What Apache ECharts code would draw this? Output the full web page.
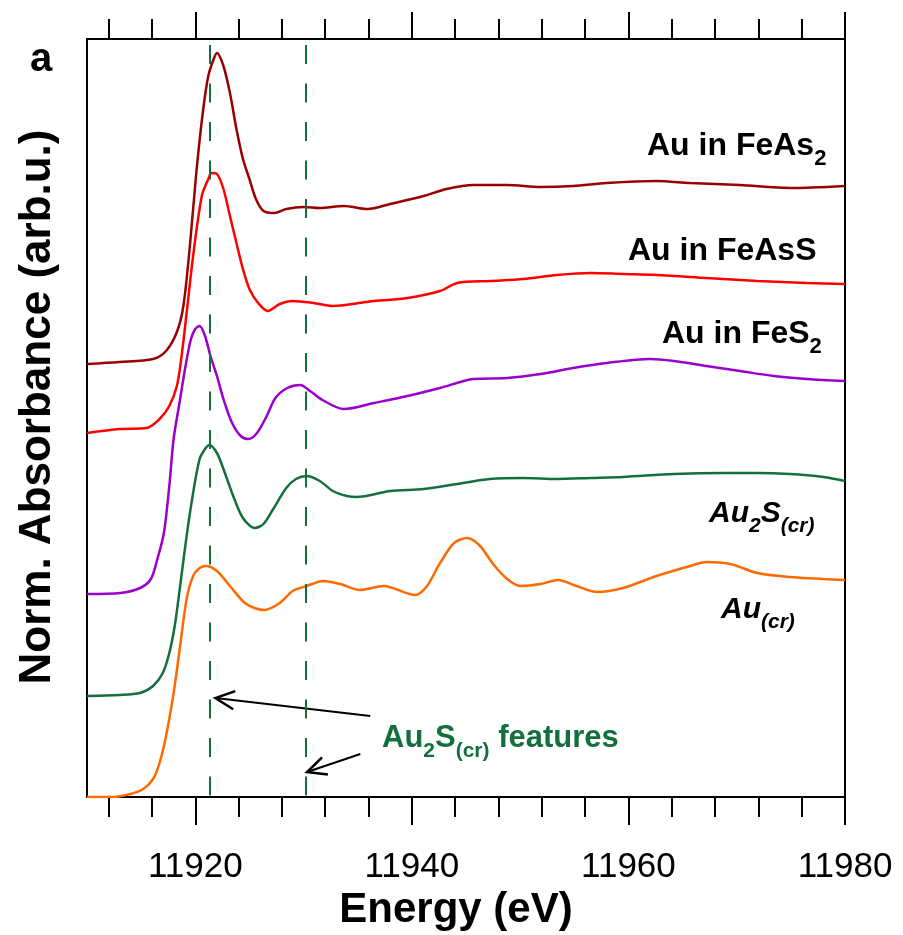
<!DOCTYPE html>
<html>
<head>
<meta charset="utf-8">
<script src="https://cdn.jsdelivr.net/npm/echarts@6.0.0/dist/echarts.min.js"></script>
<style>
  html, body { margin: 0; padding: 0; background: #fff; }
  #chart { width: 903px; height: 935px; }
</style>
</head>
<body>
<div id="chart"></div>
<script>
// ---------------- data ----------------
const majorTicks = [11920, 11940, 11960, 11980];
const minorTicks = [11912, 11916, 11924, 11928, 11932, 11936, 11944, 11948, 11952, 11956, 11964, 11968, 11972, 11976];

// Au in FeAs2 (dark red)
const feAs2E = [11910, 11913, 11916.1, 11917.3, 11918.3, 11918.9, 11919.5, 11920.1, 11920.7, 11921.2, 11921.7, 11922.0, 11922.6, 11923.2, 11923.8, 11924.4, 11925.0, 11925.6, 11926.3, 11927.3, 11928.4, 11930.0, 11931.5, 11933.7, 11935.9, 11938.0, 11941.1, 11943.2, 11945.7, 11948.8, 11951.9, 11954.9, 11958.0, 11962.6, 11965.7, 11970.3, 11974.9, 11980];
const feAs2A = [4.33, 4.35, 4.38, 4.46, 4.65, 4.91, 5.51, 6.25, 6.85, 7.21, 7.38, 7.44, 7.31, 7.04, 6.68, 6.38, 6.18, 5.98, 5.86, 5.84, 5.88, 5.90, 5.89, 5.91, 5.88, 5.93, 6.01, 6.08, 6.12, 6.12, 6.10, 6.11, 6.14, 6.16, 6.14, 6.12, 6.09, 6.11];

// Au in FeAsS (red)
const feAsSE = [11910, 11913.0, 11915.5, 11916.7, 11917.6, 11918.3, 11918.7, 11919.2, 11919.8, 11920.6, 11921.2, 11921.5, 11922.0, 11922.6, 11923.2, 11923.8, 11924.4, 11925.0, 11925.8, 11926.7, 11927.8, 11929.0, 11930.9, 11932.7, 11936.5, 11939.6, 11942.6, 11944.2, 11947.2, 11950.3, 11953.4, 11956.5, 11959.5, 11962.6, 11967.2, 11971.9, 11976.5, 11980];
const feAsSA = [3.64, 3.68, 3.69, 3.78, 3.91, 4.11, 4.38, 4.84, 5.41, 6.01, 6.18, 6.24, 6.23, 6.08, 5.81, 5.54, 5.28, 5.08, 4.94, 4.86, 4.93, 4.96, 4.94, 4.91, 4.96, 4.99, 5.06, 5.14, 5.16, 5.18, 5.22, 5.24, 5.23, 5.22, 5.19, 5.16, 5.14, 5.13];

// Au in FeS2 (purple)
const feS2E = [11910, 11913.1, 11914.9, 11915.9, 11916.5, 11917.1, 11917.6, 11918.0, 11918.6, 11919.1, 11919.6, 11920.0, 11920.4, 11920.9, 11921.4, 11922.0, 11922.6, 11923.4, 11924.2, 11924.9, 11925.7, 11926.6, 11927.4, 11928.5, 11929.7, 11930.6, 11931.9, 11933.7, 11936.5, 11939.6, 11942.6, 11945.7, 11948.8, 11951.9, 11954.9, 11958.0, 11962.0, 11964.2, 11967.2, 11970.3, 11973.4, 11976.5, 11980];
const feS2A = [2.03, 2.04, 2.09, 2.18, 2.38, 2.64, 3.11, 3.58, 3.98, 4.31, 4.58, 4.68, 4.71, 4.61, 4.41, 4.21, 3.98, 3.74, 3.61, 3.58, 3.64, 3.81, 3.99, 4.09, 4.12, 4.06, 3.96, 3.88, 3.94, 4.01, 4.09, 4.18, 4.19, 4.23, 4.29, 4.34, 4.38, 4.36, 4.31, 4.26, 4.21, 4.18, 4.16];

// Au2S(cr) (green)
const au2sE = [11910, 11913.0, 11914.9, 11916.1, 11917.0, 11917.6, 11918.1, 11918.6, 11919.2, 11919.8, 11920.4, 11920.9, 11921.3, 11922.0, 11922.6, 11923.5, 11924.4, 11925.5, 11926.3, 11927.2, 11928.4, 11929.3, 11930.3, 11931.5, 11932.7, 11934.0, 11934.9, 11938.0, 11941.1, 11944.2, 11947.2, 11950.3, 11953.4, 11956.5, 11959.5, 11964.2, 11968.8, 11971.9, 11974.9, 11978.0, 11980];
const au2sA = [1.01, 1.02, 1.04, 1.11, 1.24, 1.44, 1.71, 2.11, 2.61, 3.04, 3.38, 3.48, 3.52, 3.44, 3.28, 3.01, 2.79, 2.69, 2.73, 2.88, 3.09, 3.18, 3.21, 3.16, 3.06, 3.01, 3.00, 3.06, 3.08, 3.13, 3.18, 3.19, 3.18, 3.19, 3.20, 3.23, 3.24, 3.24, 3.23, 3.20, 3.16];

// Au(cr) (orange)
const auCrE = [11910, 11912.4, 11914.0, 11915.2, 11916.1, 11916.7, 11917.3, 11918.0, 11918.6, 11919.2, 11919.8, 11920.4, 11921.0, 11922.0, 11923.2, 11924.7, 11926.4, 11927.8, 11929.0, 11930.3, 11931.8, 11933.4, 11935.2, 11937.4, 11940.3, 11941.4, 11942.6, 11943.9, 11945.1, 11946.3, 11947.5, 11948.8, 11950.0, 11951.9, 11953.5, 11955.2, 11957.1, 11959.5, 11962.6, 11965.7, 11967.2, 11969.4, 11971.9, 11974.9, 11978.0, 11980];
const auCrA = [0.00, 0.00, 0.03, 0.08, 0.18, 0.34, 0.61, 1.04, 1.51, 1.98, 2.21, 2.29, 2.31, 2.26, 2.11, 1.93, 1.87, 1.94, 2.06, 2.11, 2.16, 2.13, 2.07, 2.11, 2.02, 2.11, 2.34, 2.54, 2.59, 2.51, 2.33, 2.18, 2.11, 2.13, 2.17, 2.11, 2.05, 2.09, 2.21, 2.31, 2.35, 2.33, 2.24, 2.20, 2.18, 2.17];

// Au2S(cr) feature energies (dashed lines)
const featureEnergies = [11921.3, 11930.2];
// arrows: [tailE, tailA, tipE, tipA]
const arrowData = [[11936.16, 0.81, 11921.86, 0.99], [11935.24, 0.43, 11930.32, 0.25]];

// ---------------- chart ----------------
const FONT = '"Liberation Sans", Arial, Helvetica, sans-serif';
const GREEN = '#13703c';
const zip = (xs, ys) => xs.map((x, i) => [x, ys[i]]);

const seriesDefs = [
  { name: 'Au in FeAs2', e: feAs2E, a: feAs2A, color: '#990000' },
  { name: 'Au in FeAsS', e: feAsSE, a: feAsSA, color: '#ff0000' },
  { name: 'Au in FeS2', e: feS2E, a: feS2A, color: '#9900cc' },
  { name: 'Au2S(cr)', e: au2sE, a: au2sA, color: GREEN },
  { name: 'Au(cr)', e: auCrE, a: auCrA, color: '#ff6a00' }
];

const series = seriesDefs.map(d => ({
  name: d.name, type: 'line', xAxisIndex: 0, yAxisIndex: 0,
  data: zip(d.e, d.a), showSymbol: false, symbol: 'none', smooth: 0.3,
  lineStyle: { color: d.color, width: 2.5 }, emphasis: { disabled: true }, silent: true
}));

series.push({
  name: 'features', type: 'line', data: [], silent: true,
  markLine: {
    silent: true, symbol: ['none', 'none'], label: { show: false },
    lineStyle: { color: GREEN, width: 2, type: [19, 19.5] },
    emphasis: { disabled: true },
    data: featureEnergies.map(e => [{ coord: [e, 7.52] }, { coord: [e, 0] }])
  }
});

series.push({
  type: 'custom', silent: true, xAxisIndex: 0, yAxisIndex: 0,
  data: arrowData, encode: { x: [0, 2], y: [1, 3] },
  renderItem: function (params, api) {
    const p0 = api.coord([api.value(0), api.value(1)]);
    const p1 = api.coord([api.value(2), api.value(3)]);
    const ang = Math.atan2(p1[1] - p0[1], p1[0] - p0[0]);
    const L = 21, a = 0.45;
    const b1 = [p1[0] - L * Math.cos(ang - a), p1[1] - L * Math.sin(ang - a)];
    const b2 = [p1[0] - L * Math.cos(ang + a), p1[1] - L * Math.sin(ang + a)];
    return {
      type: 'group', children: [
        { type: 'line', shape: { x1: p0[0], y1: p0[1], x2: p1[0], y2: p1[1] }, style: { stroke: '#000', lineWidth: 2 } },
        { type: 'polyline', shape: { points: [b1, p1, b2] }, style: { stroke: '#000', lineWidth: 2.5, fill: null } }
      ]
    };
  }
});

const axisCommon = {
  type: 'value', min: 11910, max: 11980, gridIndex: 0,
  splitLine: { show: false }
};
const lineStyleBlack = { color: '#000', width: 2 };

const xAxes = [
  Object.assign({}, axisCommon, {
    position: 'bottom',
    axisLine: { show: true, onZero: false, lineStyle: lineStyleBlack },
    axisTick: { show: true, inside: false, length: 28, customValues: majorTicks, lineStyle: lineStyleBlack },
    axisLabel: { show: true, customValues: majorTicks, fontSize: 35, color: '#000', fontFamily: FONT, margin: 53,
                 formatter: v => String(v) },
    name: 'Energy (eV)', nameLocation: 'middle', nameGap: 91,
    nameTextStyle: { fontSize: 42, fontWeight: 'bold', color: '#000', fontFamily: FONT, padding: [0, 20, 0, 0] }
  }),
  Object.assign({}, axisCommon, {
    position: 'top',
    axisLine: { show: true, onZero: false, lineStyle: lineStyleBlack },
    axisTick: { show: true, inside: false, length: 27, customValues: majorTicks, lineStyle: lineStyleBlack },
    axisLabel: { show: false }
  }),
  Object.assign({}, axisCommon, {
    position: 'bottom',
    axisLine: { show: false, onZero: false },
    axisTick: { show: true, inside: false, length: 20, customValues: minorTicks, lineStyle: lineStyleBlack },
    axisLabel: { show: false }
  }),
  Object.assign({}, axisCommon, {
    position: 'top',
    axisLine: { show: false, onZero: false },
    axisTick: { show: true, inside: false, length: 20, customValues: minorTicks, lineStyle: lineStyleBlack },
    axisLabel: { show: false }
  })
];

const yAxes = [
  {
    type: 'value', min: 0, max: 7.58, position: 'left',
    axisLine: { show: true, onZero: false, lineStyle: lineStyleBlack },
    axisTick: { show: false }, axisLabel: { show: false }, splitLine: { show: false },
    name: 'Norm. Absorbance (arb.u.)', nameLocation: 'middle', nameGap: 27,
    nameTextStyle: { fontSize: 44, fontWeight: 'bold', color: '#000', fontFamily: FONT, padding: [0, 0, 0, 22] }
  },
  {
    type: 'value', min: 0, max: 7.58, position: 'right',
    axisLine: { show: true, onZero: false, lineStyle: lineStyleBlack },
    axisTick: { show: false }, axisLabel: { show: false }, splitLine: { show: false }
  }
];

// text labels: parts of [text, isSubscript]
const labelDefs = [
  { parts: [['Au in FeAs', 0], ['2', 1]], left: 647, baseline: 155, fs: 32, sfs: 22, italic: false, color: '#000', d: 7 },
  { parts: [['Au in FeAsS', 0]], left: 628, baseline: 260, fs: 32, sfs: 22, italic: false, color: '#000', d: 7 },
  { parts: [['Au in FeS', 0], ['2', 1]], left: 662, baseline: 343, fs: 32, sfs: 22, italic: false, color: '#000', d: 7 },
  { parts: [['Au', 0], ['2', 1], ['S', 0], ['(cr)', 1]], left: 709, baseline: 522, fs: 30, sfs: 21, italic: true, color: '#000', d: 8 },
  { parts: [['Au', 0], ['(cr)', 1]], left: 721, baseline: 618, fs: 30, sfs: 21, italic: true, color: '#000', d: 8 },
  { parts: [['Au', 0], ['2', 1], ['S', 0], ['(cr)', 1], [' features', 0]], left: 382, baseline: 747, fs: 31, sfs: 21, italic: false, color: GREEN, d: 7 }
];

function makeLabel(def) {
  const L = Math.round(def.fs * 1.25);
  const hSub = L + 0.693 * (def.sfs - def.fs) - 2 * def.d;
  const top = def.baseline + 6 - (L / 2 + 0.3465 * def.fs);
  const text = def.parts.map(p => (p[1] ? '{s|' : '{m|') + p[0] + '}').join('');
  const base = { fill: def.color, fontFamily: FONT, fontWeight: 'bold', fontStyle: def.italic ? 'italic' : 'normal' };
  return {
    type: 'text', left: def.left, top: top, silent: true,
    style: {
      text: text, fill: def.color, verticalAlign: 'top', align: 'left',
      rich: {
        m: Object.assign({}, base, { fontSize: def.fs, lineHeight: L, verticalAlign: 'top' }),
        s: Object.assign({}, base, { fontSize: def.sfs, lineHeight: hSub, verticalAlign: 'bottom' })
      }
    }
  };
}

const graphics = labelDefs.map(makeLabel);
graphics.push({
  type: 'text', left: 30, top: 40, silent: true,
  style: { text: 'a', fill: '#000', font: 'bold 40px ' + FONT, verticalAlign: 'top' }
});

const chart = echarts.init(document.getElementById('chart'), null, { renderer: 'canvas' });
chart.setOption({
  animation: false,
  backgroundColor: '#fff',
  grid: { left: 87, right: 58, top: 39, bottom: 138, containLabel: false, outerBoundsMode: 'none' },
  xAxis: xAxes,
  yAxis: yAxes,
  series: series,
  graphic: graphics
});
</script>
</body>
</html>
